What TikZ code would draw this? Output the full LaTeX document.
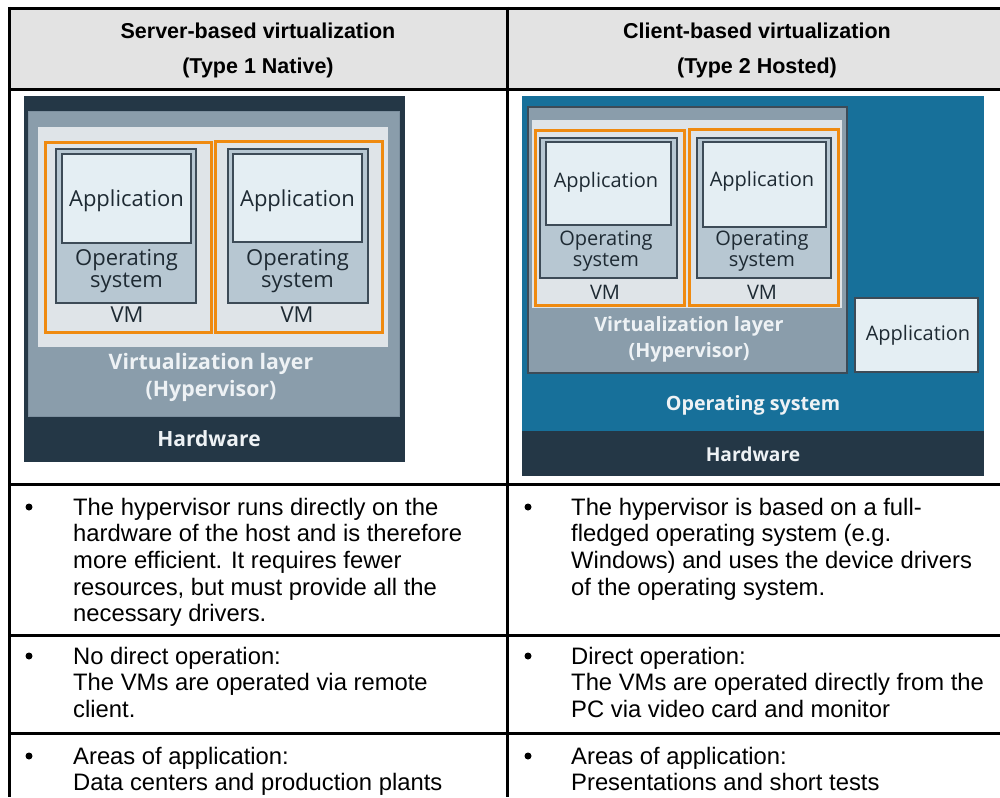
\documentclass[tikz,border=0pt]{standalone}
\usepackage{fontspec}
\setmainfont{Liberation Sans}
\newfontfamily\diagfont{Open Sans}
\definecolor{hwc}{HTML}{243746}
\definecolor{hvc}{HTML}{8A9DAB}
\definecolor{hvedge}{HTML}{7D909F}
\definecolor{lightc}{HTML}{DFE4E8}
\definecolor{osc}{HTML}{B7C7D2}
\definecolor{appc}{HTML}{E4EEF3}
\definecolor{boxline}{HTML}{3D4B57}
\definecolor{vmorange}{HTML}{EF8A10}
\definecolor{osblue}{HTML}{17709A}
\definecolor{hdrc}{HTML}{E3E3E3}
\definecolor{paletext}{HTML}{EEF2F5}
\definecolor{darktext}{HTML}{1E2A33}
\tikzset{
  gridline/.style={line width=3pt, black},
  osbox/.style={fill=osc, draw=boxline, line width=1.5pt},
  appbox/.style={fill=appc, draw=boxline, line width=1.5pt},
  vmframe/.style={draw=vmorange, line width=3pt},
  hyperbox/.style={fill=hvc, draw=boxline, line width=1.5pt},
  dtxt/.style={text=darktext, inner sep=0pt, align=center},
  ltxt/.style={text=paletext, inner sep=0pt, align=center},
  bigtxt/.style={font=\diagfont\fontsize{22}{22}\selectfont},
  smalltxt/.style={font=\diagfont\fontsize{20}{21}\selectfont},
  hdr/.style={font=\fontsize{21.5}{26}\selectfont\bfseries, inner sep=0pt, anchor=base},
  body/.style={font=\fontsize{23.8}{28}\selectfont, inner sep=0pt, anchor=base west},
  bullet/.style={circle, fill=black, minimum size=7pt, inner sep=0pt},
}
\begin{document}
\begin{tikzpicture}[x=1pt, y=-1pt]
\useasboundingbox (0,0) rectangle (1000,797);
\fill[white] (0,0) rectangle (1000,797);

% ---------- table: header shading and grid ----------
\fill[hdrc] (9.5,8.5) rectangle (1000,89.5);
\draw[gridline] (8,8.5) -- (1000,8.5);
\draw[gridline] (8,89.5) -- (1000,89.5);
\draw[gridline] (8,484) -- (1000,484);
\draw[gridline] (8,635) -- (1000,635);
\draw[gridline] (8,733) -- (1000,733);
\draw[gridline] (9.5,7) -- (9.5,797);
\draw[gridline] (507.5,7) -- (507.5,797);

\node[hdr] (h1a) at (258,38.5) {Server-based virtualization};
\node[hdr] (h1b) at (258,73.5) {(Type 1 Native)};
\node[hdr] (h2a) at (757,38.5) {Client-based virtualization};
\node[hdr] (h2b) at (757,73.5) {(Type 2 Hosted)};

% ---------- type 1: native hypervisor ----------
\fill[hwc] (24,96) rectangle (405,462);
\filldraw[fill=hvc, draw=hvedge, line width=1pt] (28,112) rectangle (399,416);
\fill[lightc] (38,127) rectangle (388,347);
\draw[vmframe] (45,142) rectangle (211.5,332);
\draw[vmframe] (215.5,141) rectangle (382,332);
\draw[osbox] (56,149) rectangle (196,303);
\draw[appbox] (62,154) rectangle (191,243);
\draw[osbox] (228,149) rectangle (368,303);
\draw[appbox] (233,154) rectangle (362,242);
\node[dtxt, bigtxt] (la1) at (126.5,201) {Application};
\node[dtxt, bigtxt] (la2) at (297.5,201) {Application};
\node[dtxt, bigtxt] (lo1) at (126.5,271) {Operating\\system};
\node[dtxt, bigtxt] (lo2) at (297.5,271) {Operating\\system};
\node[dtxt, bigtxt] (lv1) at (127,315) {VM};
\node[dtxt, bigtxt] (lv2) at (297,315) {VM};
\node[ltxt, font=\diagfont\bfseries\fontsize{21.3}{27}\selectfont] (lhv) at (211,377) {Virtualization layer\\(Hypervisor)};
\node[ltxt, font=\diagfont\bfseries\fontsize{21}{24}\selectfont] (lhw) at (209,439) {Hardware};

% ---------- type 2: hosted hypervisor ----------
\fill[osblue] (522,96) rectangle (984,431);
\fill[hwc] (522,431) rectangle (984,476);
\draw[hyperbox] (528,107) rectangle (847,373);
\fill[lightc] (532,120) rectangle (842,308);
\draw[vmframe] (535,130) rectangle (684,305);
\draw[vmframe] (689,129) rectangle (838,305);
\draw[osbox] (540,138) rectangle (677,278);
\draw[appbox] (546,142) rectangle (671,225);
\draw[osbox] (697,138) rectangle (831,278);
\draw[appbox] (703,142) rectangle (826,227);
\draw[appbox] (855,298) rectangle (978,372);
\node[dtxt, smalltxt] (ra1) at (606,182) {Application};
\node[dtxt, smalltxt] (ra2) at (762,181) {Application};
\node[dtxt, smalltxt] (ro1) at (606,251) {Operating\\system};
\node[dtxt, smalltxt] (ro2) at (762,251) {Operating\\system};
\node[dtxt, smalltxt] (rv1) at (605,292) {VM};
\node[dtxt, smalltxt] (rv2) at (762,292) {VM};
\node[ltxt, font=\diagfont\bfseries\fontsize{19.7}{26}\selectfont] (rhv) at (689,339) {Virtualization layer\\(Hypervisor)};
\node[dtxt, smalltxt] (ra3) at (918,335) {Application};
\node[ltxt, font=\diagfont\bfseries\fontsize{19.7}{22}\selectfont] (ros) at (753,405) {Operating system};
\node[ltxt, font=\diagfont\bfseries\fontsize{19.2}{22}\selectfont] (rhw) at (753,454) {Hardware};

% ---------- descriptive rows ----------
\node[bullet] (b1) at (29,507) {};
\node[body] (t1a) at (73,515) {The hypervisor runs directly on the};
\node[body] (t1b) at (73,541.7) {hardware of the host and is therefore};
\node[body] (t1c) at (73,568.4) {more efficient. It requires fewer};
\node[body] (t1d) at (73,595.1) {resources, but must provide all the};
\node[body] (t1e) at (73,621.8) {necessary drivers.};

\node[bullet] (b2) at (528,507) {};
\node[body] (u1a) at (571,515) {The hypervisor is based on a full-};
\node[body] (u1b) at (571,541.7) {fledged operating system (e.g.};
\node[body] (u1c) at (571,568.4) {Windows) and uses the device drivers};
\node[body] (u1d) at (571,595.1) {of the operating system.};

\node[bullet] (b3) at (29,656) {};
\node[body] (t2a) at (73,664) {No direct operation:};
\node[body] (t2b) at (73,690.7) {The VMs are operated via remote};
\node[body] (t2c) at (73,717.4) {client.};

\node[bullet] (b4) at (528,656) {};
\node[body] (u2a) at (571,664) {Direct operation:};
\node[body] (u2b) at (571,690.7) {The VMs are operated directly from the};
\node[body] (u2c) at (571,717.4) {PC via video card and monitor};

\node[bullet] (b5) at (29,756) {};
\node[body] (t3a) at (73,764) {Areas of application:};
\node[body] (t3b) at (73,790.7) {Data centers and production plants};

\node[bullet] (b6) at (528,756) {};
\node[body] (u3a) at (571,764) {Areas of application:};
\node[body] (u3b) at (571,790.7) {Presentations and short tests};
\end{tikzpicture}
\end{document}
